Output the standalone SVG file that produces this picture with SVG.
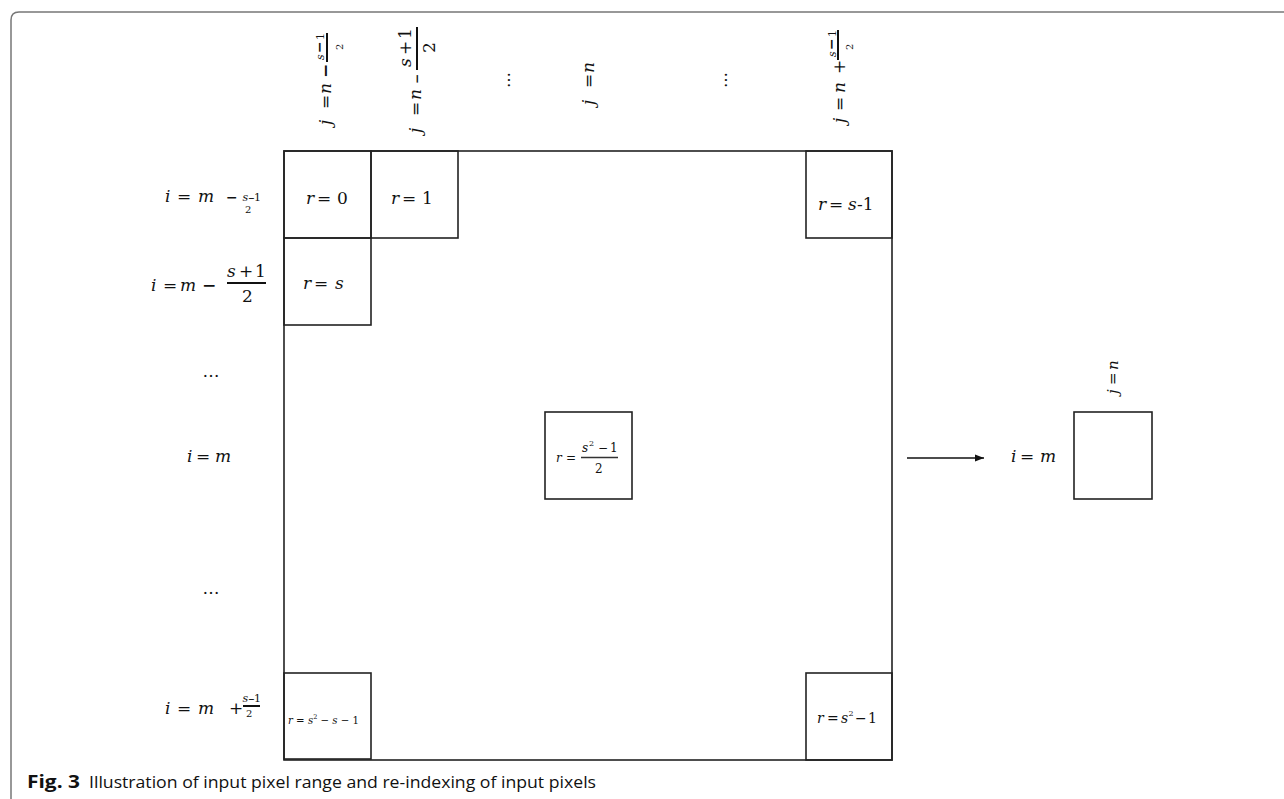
<svg xmlns="http://www.w3.org/2000/svg" width="1284" height="799" viewBox="0 0 1284 799" font-size="17">
<style>
text{font-family:"DejaVu Serif","Liberation Serif",serif;fill:#111}
.v{font-style:italic}
.box{fill:none;stroke:#222;stroke-width:1.6}
.bar{stroke:#111;stroke-width:2}
.cap{font-family:"Open Sans","Liberation Sans",sans-serif}
</style>
<defs>
<marker id="ah" markerWidth="10" markerHeight="8" refX="9" refY="4" orient="auto" markerUnits="userSpaceOnUse">
<path d="M0,0.5 L9,4 L0,7.5 Z" fill="#111"/>
</marker>
</defs>
<path d="M11,799 V20 Q11,12 19,12 H1284" fill="none" stroke="#777" stroke-width="1.5"/>

<g id="grid">
<rect class="box" x="284" y="151" width="608" height="609"/>
</g>
<g id="cell-r0"><rect class="box" x="284" y="151" width="87" height="87"/>
<text y="204"><tspan class="v" x="306">r</tspan><tspan x="317">=</tspan><tspan x="337">0</tspan></text></g>
<g id="cell-r1"><rect class="box" x="371" y="151" width="87" height="87"/>
<text y="204"><tspan class="v" x="391">r</tspan><tspan x="402">=</tspan><tspan x="422">1</tspan></text></g>
<g id="cell-rs1"><rect class="box" x="806" y="151" width="86" height="87"/>
<text y="210"><tspan class="v" x="818">r</tspan><tspan x="829">=</tspan><tspan class="v" x="848">s</tspan><tspan x="857">-1</tspan></text></g>
<g id="cell-rs"><rect class="box" x="284" y="238" width="87" height="87"/>
<text y="289"><tspan class="v" x="303">r</tspan><tspan x="314">=</tspan><tspan class="v" x="335">s</tspan></text></g>
<g id="cell-center"><rect class="box" x="545" y="412" width="87" height="87"/>
<text y="462" font-size="12"><tspan class="v" x="556">r</tspan><tspan x="566">=</tspan><tspan class="v" x="582" y="452">s</tspan><tspan x="589" y="446" font-size="8">2</tspan><tspan x="598" y="452">−</tspan><tspan x="610">1</tspan><tspan x="595" y="473">2</tspan></text>
<line x1="581" y1="457.5" x2="618" y2="457.5" stroke="#333" stroke-width="1.3"/>
</g>
<g id="cell-bl"><rect class="box" x="284" y="673" width="87" height="86"/>
<text x="288" y="724" font-size="10.2"><tspan class="v">r</tspan> = <tspan class="v">s</tspan><tspan dy="-5" font-size="6.5">2</tspan><tspan dy="5"> − </tspan><tspan class="v">s</tspan> − 1</text></g>
<g id="cell-br"><rect class="box" x="806" y="673" width="86" height="87"/>
<text y="723" font-size="14"><tspan class="v" x="817">r</tspan><tspan x="827">=</tspan><tspan class="v" x="841">s</tspan><tspan x="848.5" y="716" font-size="8">2</tspan><tspan x="855" y="723">−</tspan><tspan x="868">1</tspan></text></g>

<g id="row-1">
<text y="202"><tspan class="v" x="165">i</tspan><tspan x="177">=</tspan><tspan class="v" x="198">m</tspan><tspan x="226" font-weight="bold" font-size="14">−</tspan><tspan class="v" x="242.5" y="200.5" font-size="11">s</tspan><tspan x="248" font-size="8" font-weight="bold">−</tspan><tspan x="254" font-size="11">1</tspan><tspan x="245" y="213" font-size="10">2</tspan></text>
</g>
<g id="row-2">
<text y="291"><tspan class="v" x="151">i</tspan><tspan x="163">=</tspan><tspan class="v" x="180">m</tspan><tspan x="202" font-weight="bold">−</tspan><tspan class="v" x="227" y="277">s</tspan><tspan x="239">+</tspan><tspan x="255">1</tspan><tspan x="242" y="302">2</tspan></text>
<line class="bar" x1="227" y1="283" x2="266" y2="283" stroke-width="1.4"/>
</g>
<g id="row-dots1"><text x="211" y="377" text-anchor="middle" font-size="17">…</text></g>
<g id="row-m"><text y="462"><tspan class="v" x="187">i</tspan><tspan x="196">=</tspan><tspan class="v" x="215">m</tspan></text></g>
<g id="row-dots2"><text x="211" y="594" text-anchor="middle" font-size="17">…</text></g>
<g id="row-last">
<text y="714"><tspan class="v" x="165">i</tspan><tspan x="177">=</tspan><tspan class="v" x="198">m</tspan><tspan x="229">+</tspan><tspan class="v" x="242.5" y="702" font-size="11">s</tspan><tspan x="248" font-size="8" font-weight="bold">−</tspan><tspan x="254" font-size="11">1</tspan><tspan x="246" y="717" font-size="10">2</tspan></text>
<line class="bar" x1="243" y1="706" x2="260" y2="706"/>
</g>

<g id="col-1">
<text transform="translate(331,125) rotate(-90)"><tspan class="v" x="0" y="0">j</tspan><tspan x="16">=</tspan><tspan class="v" x="31">n</tspan><tspan x="47" font-weight="bold">−</tspan><tspan class="v" x="65" y="-7" font-size="11">s</tspan><tspan x="72" font-size="14" font-weight="bold">−</tspan><tspan x="85" font-size="11">1</tspan><tspan x="75" y="12" font-size="10">2</tspan></text>
<line class="bar" x1="327" y1="33" x2="327" y2="62" stroke-width="2.5"/>
</g>
<g id="col-2">
<text transform="translate(421,133) rotate(-90)"><tspan class="v" x="0" y="0">j</tspan><tspan x="17">=</tspan><tspan class="v" x="33">n</tspan><tspan x="49" font-weight="bold" font-size="12">−</tspan><tspan class="v" x="66" y="-10">s</tspan><tspan x="78">+</tspan><tspan x="94">1</tspan><tspan x="80" y="14">2</tspan></text>
<line class="bar" x1="417" y1="27" x2="417" y2="70" stroke-width="2"/>
</g>
<g id="col-dots1"><text transform="translate(510,80) rotate(-90)" text-anchor="middle" font-size="16">…</text></g>
<g id="col-n">
<text transform="translate(594,105) rotate(-90)"><tspan class="v" x="0">j</tspan><tspan x="17">=</tspan><tspan class="v" x="32">n</tspan></text>
</g>
<g id="col-dots2"><text transform="translate(727,80) rotate(-90)" text-anchor="middle" font-size="16">…</text></g>
<g id="col-last">
<text transform="translate(845,123) rotate(-90)"><tspan class="v" x="0" y="0">j</tspan><tspan x="12">=</tspan><tspan class="v" x="30">n</tspan><tspan x="49">+</tspan><tspan class="v" x="66" y="-9" font-size="11">s</tspan><tspan x="73" font-size="14" font-weight="bold">−</tspan><tspan x="86" font-size="11">1</tspan><tspan x="73" y="8" font-size="10">2</tspan></text>
<line class="bar" x1="838" y1="30" x2="838" y2="60" stroke-width="2.5"/>
</g>

<g id="connectors">
<line x1="907" y1="458" x2="984" y2="458" stroke="#111" stroke-width="1.3" marker-end="url(#ah)"/>
</g>

<g id="output">
<rect class="box" x="1074" y="412" width="78" height="87"/>
<text y="462"><tspan class="v" x="1011">i</tspan><tspan x="1020">=</tspan><tspan class="v" x="1040">m</tspan></text>
<text transform="translate(1118,394) rotate(-90)" font-size="15"><tspan class="v" x="0">j</tspan><tspan x="9">=</tspan><tspan class="v" x="24">n</tspan></text>
</g>

<g id="caption">
<text class="cap" x="27" y="788" font-weight="bold" textLength="53" lengthAdjust="spacingAndGlyphs">Fig. 3</text>
<text class="cap" x="89" y="788" textLength="507" lengthAdjust="spacingAndGlyphs">Illustration of input pixel range and re-indexing of input pixels</text>
</g>
</svg>
